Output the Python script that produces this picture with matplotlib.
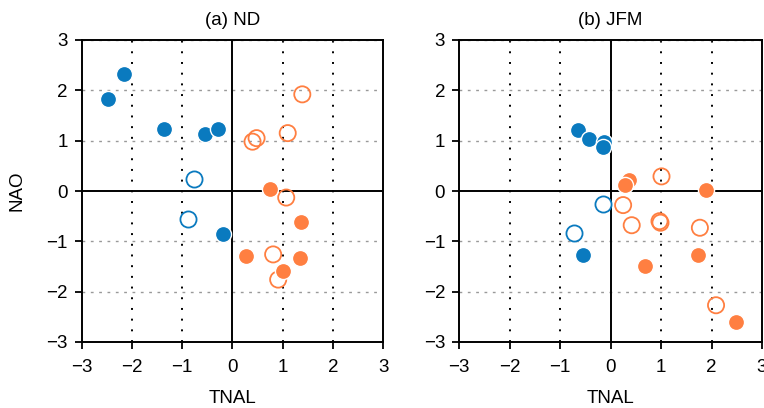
import matplotlib.pyplot as plt

# ---- data: (TNAL, NAO) pairs ----
# panel (a) ND
nd_blue_fill_x = [-2.47, -2.16, -1.37, -0.54, -0.29, -0.18]
nd_blue_fill_y = [1.83, 2.33, 1.23, 1.13, 1.24, -0.85]
nd_blue_open_x = [-0.76, -0.88]
nd_blue_open_y = [0.24, -0.55]
nd_orange_open_x = [1.39, 0.40, 0.48, 1.10, 1.07, 0.81, 0.91]
nd_orange_open_y = [1.92, 0.98, 1.05, 1.15, -0.13, -1.26, -1.76]
nd_orange_fill_x = [0.75, 1.37, 0.27, 1.34, 1.01]
nd_orange_fill_y = [0.03, -0.62, -1.30, -1.33, -1.58]

# panel (b) JFM
jfm_blue_fill_x = [-0.64, -0.43, -0.12, -0.15, -0.54]
jfm_blue_fill_y = [1.21, 1.03, 0.98, 0.88, -1.28]
jfm_blue_open_x = [-0.72, -0.15]
jfm_blue_open_y = [-0.83, -0.26]
jfm_orange_fill_x = [0.36, 0.29, 1.89, 0.68, 1.74, 2.49]
jfm_orange_fill_y = [0.21, 0.12, 0.01, -1.49, -1.28, -2.61]
jfm_orange_open_x = [1.01, 0.25, 0.42, 0.97, 0.99, 1.77, 2.09]
jfm_orange_open_y = [0.29, -0.28, -0.68, -0.60, -0.63, -0.73, -2.27]

ticks = [-3, -2, -1, 0, 1, 2, 3]
tick_labels = ['\u22123', '\u22122', '\u22121', '0', '1', '2', '3']

BLUE = '#0a7abf'
ORANGE = '#ff7f41'
FS = 13.5

plt.rcParams['font.family'] = ['Liberation Sans', 'DejaVu Sans']

fig = plt.figure(figsize=(7.64, 4.08), dpi=100)
W, H = 764, 408
ax_a = fig.add_axes([81.7 / W, 1 - 342 / H, 301.5 / W, 302 / H])
ax_b = fig.add_axes([459 / W, 1 - 342 / H, 303 / W, 302 / H])


def draw_panel(ax, title, bfx, bfy, box, boy, ofx, ofy, oox, ooy):
    # grid: dotted black verticals, dashed gray horizontals
    for v in [-2, -1, 1, 2]:
        ax.axvline(v, color='black', linestyle=(0, (1, 4.5)), linewidth=1.4, zorder=1)
    for h in [-2, -1, 1, 2, 3, -3]:
        ax.axhline(h, color='#999999', linestyle=(0, (2, 4)), linewidth=1.0, zorder=1)
    ax.axvline(0, color='black', linewidth=1.4, zorder=1)
    ax.axhline(0, color='black', linewidth=1.4, zorder=1)

    ms = 135
    ax.scatter(box, boy, s=ms, facecolor='white', edgecolor=BLUE, linewidth=1.3, zorder=3)
    ax.scatter(oox, ooy, s=ms, facecolor='none', edgecolor=ORANGE, linewidth=1.3, zorder=3)
    ax.scatter(bfx, bfy, s=ms, facecolor=BLUE, edgecolor='white', linewidth=1.0, zorder=4)
    ax.scatter(ofx, ofy, s=ms, facecolor=ORANGE, edgecolor='white', linewidth=1.0, zorder=4)

    ax.set_xlim(-3, 3)
    ax.set_ylim(-3, 3)
    ax.set_xticks(ticks)
    ax.set_yticks(ticks)
    ax.set_xticklabels(tick_labels)
    ax.set_yticklabels(tick_labels)
    ax.tick_params(direction='out', length=5, width=1.3, labelsize=FS)
    ax.tick_params(axis='x', pad=7)
    ax.tick_params(axis='y', pad=5)
    for sp in ax.spines.values():
        sp.set_linewidth(1.4)
    ax.set_title(title, fontsize=FS, pad=11)
    ax.set_xlabel('TNAL', fontsize=FS)
    ax.xaxis.set_label_coords(0.5, -0.16)


draw_panel(ax_a, '(a) ND', nd_blue_fill_x, nd_blue_fill_y, nd_blue_open_x, nd_blue_open_y,
           nd_orange_fill_x, nd_orange_fill_y, nd_orange_open_x, nd_orange_open_y)
draw_panel(ax_b, '(b) JFM', jfm_blue_fill_x, jfm_blue_fill_y, jfm_blue_open_x, jfm_blue_open_y,
           jfm_orange_fill_x, jfm_orange_fill_y, jfm_orange_open_x, jfm_orange_open_y)
ax_a.set_ylabel('NAO', fontsize=FS)
ax_a.yaxis.set_label_coords(-0.188, 0.5)

fig.savefig('out.png', dpi=100)
